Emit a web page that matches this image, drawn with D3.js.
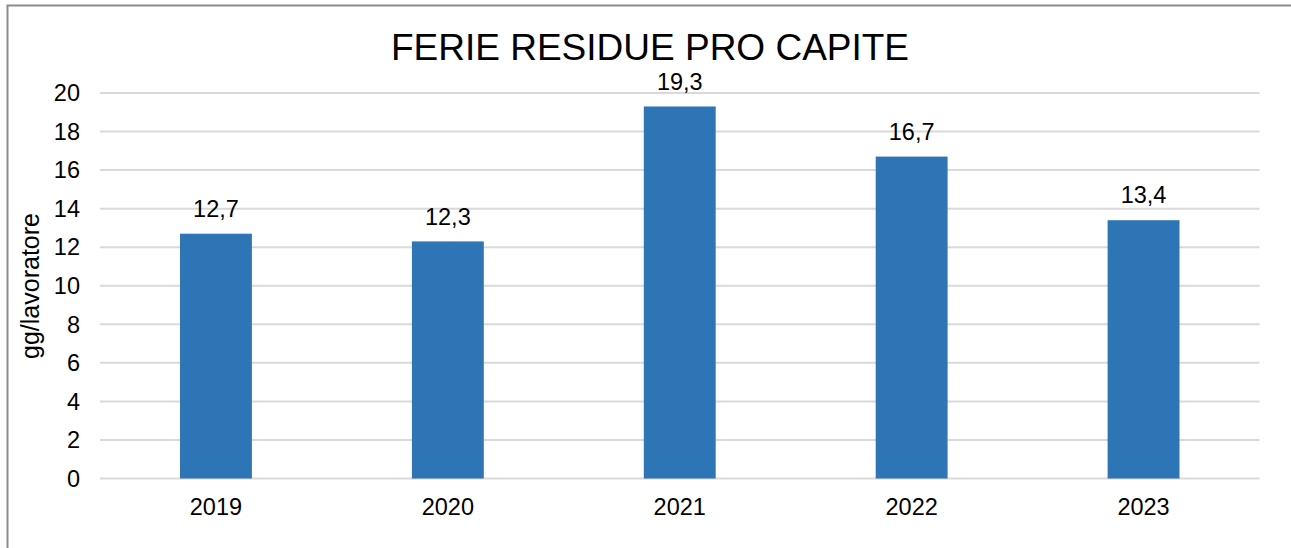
<!DOCTYPE html>
<html>
<head>
<meta charset="utf-8">
<script src="https://cdn.jsdelivr.net/npm/d3@7"></script>
<style>
  body { margin: 0; background: #fff; }
  svg { font-family: "Liberation Sans", Arial, sans-serif; }
</style>
</head>
<body>
<svg id="chart" width="1291" height="548"></svg>
<script>
var years = ["2019", "2020", "2021", "2022", "2023"];
var values = [12.7, 12.3, 19.3, 16.7, 13.4];
var yTicks = [0, 2, 4, 6, 8, 10, 12, 14, 16, 18, 20];

drawChart();

function drawChart(){
    var svg = d3.select("#chart");
    var pLeft = 100, pRight = 1259.5, pTop = 93, pBottom = 478.5;

    // frame (only left and top edges visible)
    svg.append("path")
        .attr("d", "M7.5,548 V5.5 H1291")
        .attr("fill", "none")
        .attr("stroke", "#8c8c8c")
        .attr("stroke-width", 2);

    var x = d3.scaleBand().domain(years).range([pLeft, pRight]);
    var y = d3.scaleLinear().domain([0, 20]).range([pBottom, pTop]);
    var barW = x.bandwidth() * 0.31;

    // grid
    svg.append("g").selectAll("line")
        .data(yTicks)
        .enter().append("line")
        .attr("x1", pLeft).attr("x2", pRight)
        .attr("y1", function(d){ return y(d); })
        .attr("y2", function(d){ return y(d); })
        .attr("stroke", "#d9d9d9")
        .attr("stroke-width", 2);

    // y tick labels
    svg.append("g").selectAll("text")
        .data(yTicks)
        .enter().append("text")
        .attr("x", 80)
        .attr("y", function(d){ return y(d); })
        .attr("dy", "0.35em")
        .attr("text-anchor", "end")
        .style("font-size", "23.5px")
        .text(function(d){ return d; });

    // bars
    svg.append("g").selectAll("rect")
        .data(values)
        .enter().append("rect")
        .attr("x", function(d, i){ return x(years[i]) + x.bandwidth() / 2 - barW / 2; })
        .attr("width", barW)
        .attr("y", function(d){ return y(d); })
        .attr("height", function(d){ return y(0) - y(d); })
        .attr("fill", "#2E75B6");

    // value labels
    svg.append("g").selectAll("text")
        .data(values)
        .enter().append("text")
        .attr("x", function(d, i){ return x(years[i]) + x.bandwidth() / 2; })
        .attr("y", function(d){ return y(d) - 25; })
        .attr("dy", "0.35em")
        .attr("text-anchor", "middle")
        .style("font-size", "23.5px")
        .text(function(d){ return String(d).replace(".", ","); });

    // x labels
    svg.append("g").selectAll("text")
        .data(years)
        .enter().append("text")
        .attr("x", function(d){ return x(d) + x.bandwidth() / 2; })
        .attr("y", 507)
        .attr("dy", "0.35em")
        .attr("text-anchor", "middle")
        .style("font-size", "23.5px")
        .text(function(d){ return d; });

    // title
    svg.append("text")
        .attr("x", 650)
        .attr("y", 47)
        .attr("dy", "0.35em")
        .attr("text-anchor", "middle")
        .style("font-size", "37px")
        .text("FERIE RESIDUE PRO CAPITE");

    // y axis title
    svg.append("text")
        .attr("transform", "translate(30,286) rotate(-90)")
        .attr("dy", "0.35em")
        .attr("text-anchor", "middle")
        .style("font-size", "25px")
        .text("gg/lavoratore");
}
</script>
</body>
</html>
